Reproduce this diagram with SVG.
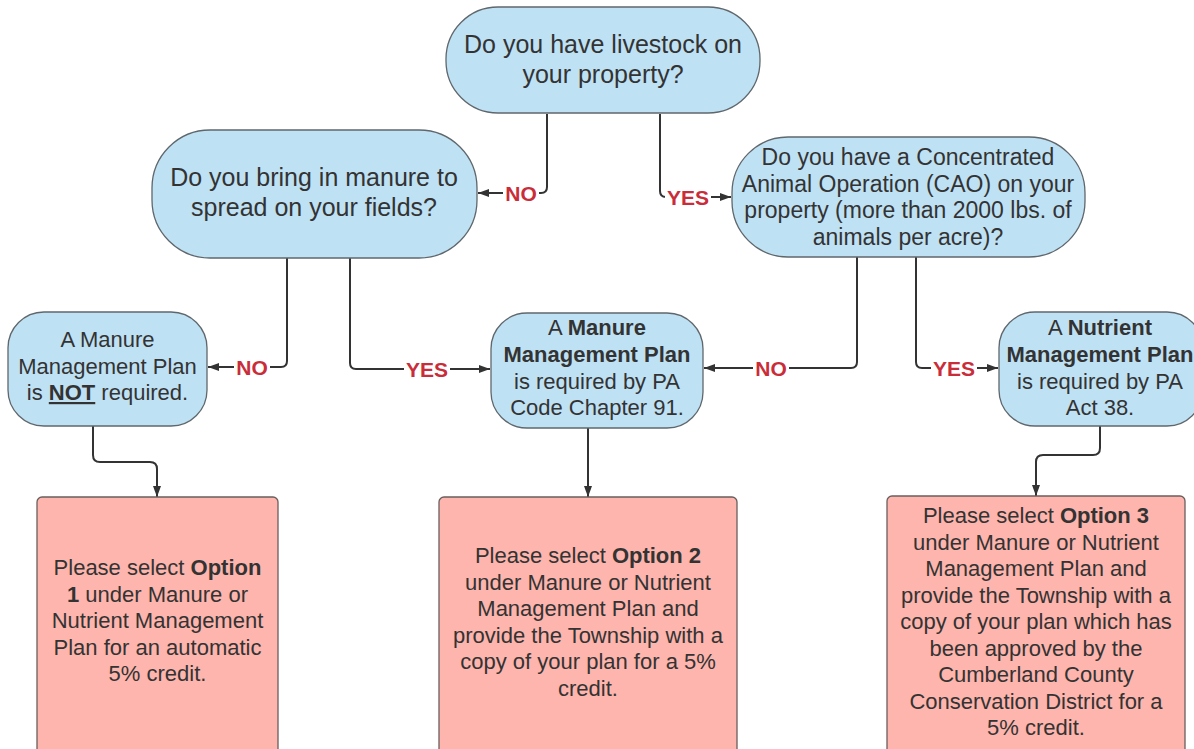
<svg xmlns="http://www.w3.org/2000/svg" width="1194" height="749" viewBox="0 0 1194 749">
<defs>
<style>
.q{fill:#bfe1f4;stroke:#5f676c;stroke-width:1.3}
.b{fill:#feb5ad;stroke:#6a5f5e;stroke-width:1.3}
.t{font-family:"Liberation Sans",Arial,sans-serif;fill:#333;text-anchor:middle}
.f25{font-size:25px}
.f23{font-size:23px}
.f22{font-size:22px}
.bd{font-weight:bold}
.c{fill:none;stroke:#333;stroke-width:2}
.bg{fill:#fff}
.lbl{font-family:"Liberation Sans",Arial,sans-serif;font-size:21px;font-weight:bold;fill:#c92d39;text-anchor:middle}
</style>
<marker id="ah" markerWidth="12" markerHeight="10" refX="11" refY="5" orient="auto" markerUnits="userSpaceOnUse">
<path d="M0,1 L11,5 L0,9 z" fill="#333"/>
</marker>
</defs>
<rect width="1194" height="749" fill="#fff"/>

<g id="connectors">
<path class="c" d="M547,114 V187 Q547,193 541,193 H478" marker-end="url(#ah)"/>
<path class="c" d="M660,114 V191 Q660,197 666,197 H731" marker-end="url(#ah)"/>
<path class="c" d="M287,258 V361 Q287,367 281,367 H208" marker-end="url(#ah)"/>
<path class="c" d="M350,258 V363 Q350,369 356,369 H490" marker-end="url(#ah)"/>
<path class="c" d="M857,257 V362 Q857,368 851,368 H704" marker-end="url(#ah)"/>
<path class="c" d="M916,257 V362 Q916,368 922,368 H998" marker-end="url(#ah)"/>
<path class="c" d="M93,426 V455 Q93,462 100,462 H150 Q157,462 157,469 V497" marker-end="url(#ah)"/>
<path class="c" d="M588,428 V497" marker-end="url(#ah)"/>
<path class="c" d="M1100,426 V448 Q1100,455 1093,455 H1043 Q1036,455 1036,462 V496" marker-end="url(#ah)"/>
<rect class="bg" x="503" y="184" width="36" height="18"/>
<rect class="bg" x="665" y="188" width="46" height="18"/>
<rect class="bg" x="234" y="358" width="36" height="18"/>
<rect class="bg" x="404" y="360" width="46" height="18"/>
<rect class="bg" x="753" y="359" width="36" height="18"/>
<rect class="bg" x="931" y="359" width="46" height="18"/>
<text class="lbl" x="521" y="200.5">NO</text>
<text class="lbl" x="688" y="204.5">YES</text>
<text class="lbl" x="252" y="374.5">NO</text>
<text class="lbl" x="427" y="376.5">YES</text>
<text class="lbl" x="771" y="375.5">NO</text>
<text class="lbl" x="954" y="375.5">YES</text>
</g>

<g id="n-livestock">
<rect class="q" x="446" y="7" width="314" height="106" rx="52"/>
<text class="t f25" x="603" y="53">Do you have livestock on</text>
<text class="t f25" x="603" y="83">your property?</text>
</g>

<g id="n-bring">
<rect class="q" x="152" y="130" width="325" height="128" rx="58"/>
<text class="t f25" x="314" y="186">Do you bring in manure to</text>
<text class="t f25" x="314" y="216">spread on your fields?</text>
</g>

<g id="n-cao">
<rect class="q" x="732" y="137" width="353" height="120" rx="56"/>
<text class="t f23" x="908" y="165">Do you have a Concentrated</text>
<text class="t f23" x="908" y="191.5">Animal Operation (CAO) on your</text>
<text class="t f23" x="908" y="218">property (more than 2000 lbs. of</text>
<text class="t f23" x="908" y="244.5">animals per acre)?</text>
</g>

<g id="n-notreq">
<rect class="q" x="8" y="312" width="199" height="114" rx="36"/>
<text class="t f22" x="107.5" y="347">A Manure</text>
<text class="t f22" x="107.5" y="373.5">Management Plan</text>
<text class="t f22" x="107.5" y="400">is <tspan class="bd" text-decoration="underline">NOT</tspan> required.</text>
</g>

<g id="n-mmp">
<rect class="q" x="491" y="313" width="212" height="115" rx="36"/>
<text class="t f22" x="597" y="335">A <tspan class="bd">Manure</tspan></text>
<text class="t f22 bd" x="597" y="362">Management Plan</text>
<text class="t f22" x="597" y="388.5">is required by PA</text>
<text class="t f22" x="597" y="415">Code Chapter 91.</text>
</g>

<g id="n-nmp">
<rect class="q" x="999" y="312" width="204" height="114" rx="36"/>
<text class="t f22" x="1100" y="335">A <tspan class="bd">Nutrient</tspan></text>
<text class="t f22 bd" x="1100" y="362">Management Plan</text>
<text class="t f22" x="1100" y="388.5">is required by PA</text>
<text class="t f22" x="1100" y="415">Act 38.</text>
</g>

<g id="n-opt1">
<rect class="b" x="37" y="497" width="241" height="270" rx="5"/>
<text class="t f22" x="157.5" y="575">Please select <tspan class="bd">Option</tspan></text>
<text class="t f22" x="157.5" y="601.5"><tspan class="bd">1</tspan> under Manure or</text>
<text class="t f22" x="157.5" y="628">Nutrient Management</text>
<text class="t f22" x="157.5" y="654.5">Plan for an automatic</text>
<text class="t f22" x="157.5" y="681">5% credit.</text>
</g>

<g id="n-opt2">
<rect class="b" x="439" y="497" width="298" height="270" rx="5"/>
<text class="t f22" x="588" y="563">Please select <tspan class="bd">Option 2</tspan></text>
<text class="t f22" x="588" y="589.5">under Manure or Nutrient</text>
<text class="t f22" x="588" y="616">Management Plan and</text>
<text class="t f22" x="588" y="642.5">provide the Township with a</text>
<text class="t f22" x="588" y="669">copy of your plan for a 5%</text>
<text class="t f22" x="588" y="695.5">credit.</text>
</g>

<g id="n-opt3">
<rect class="b" x="887" y="496" width="298" height="270" rx="5"/>
<text class="t f22" x="1036" y="523">Please select <tspan class="bd">Option 3</tspan></text>
<text class="t f22" x="1036" y="549.5">under Manure or Nutrient</text>
<text class="t f22" x="1036" y="576">Management Plan and</text>
<text class="t f22" x="1036" y="602.5">provide the Township with a</text>
<text class="t f22" x="1036" y="629">copy of your plan which has</text>
<text class="t f22" x="1036" y="655.5">been approved by the</text>
<text class="t f22" x="1036" y="682">Cumberland County</text>
<text class="t f22" x="1036" y="708.5">Conservation District for a</text>
<text class="t f22" x="1036" y="735">5% credit.</text>
</g>
</svg>
